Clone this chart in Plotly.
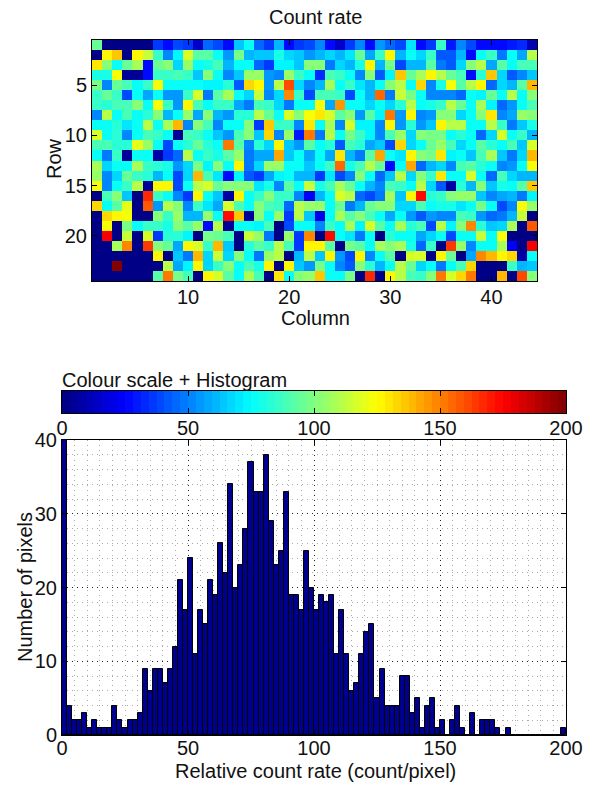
import plotly.graph_objects as go

W, H = 592, 786
FONT = "Liberation Sans"

# Count-rate map: 24 rows x 44 columns
row_01 = [95,0,0,0,0,0,35,25,40,35,15,45,40,25,65,75,45,35,60,25,35,40,50,25,15,35,50,25,55,45,38,70,25,35,85,30,50,38,28,25,28,30,32,12]
row_02 = [2,125,135,0,128,115,85,50,72,118,92,92,75,55,98,62,65,65,80,68,65,55,62,68,62,70,95,58,85,125,60,75,68,85,42,42,62,28,75,85,48,78,58,110]
row_03 = [130,100,75,95,108,25,95,100,68,105,75,80,88,60,75,75,45,35,72,72,65,100,100,48,68,60,80,125,62,98,40,60,62,92,48,42,68,100,112,58,92,75,88,88]
row_04 = [80,80,122,5,5,25,85,85,88,85,65,100,75,52,65,105,105,55,50,105,85,78,32,90,85,75,50,100,42,72,135,95,108,125,110,95,88,28,82,135,68,42,50,65]
row_05 = [98,50,95,90,75,85,122,75,75,75,75,72,72,82,42,132,125,55,110,160,68,50,60,108,75,85,70,60,78,100,110,75,132,50,80,122,92,112,125,45,68,62,92,140]
row_06 = [85,95,85,40,78,58,75,55,55,85,118,48,92,108,75,68,115,52,68,148,85,40,88,88,85,38,78,60,155,48,115,98,75,50,50,50,45,75,72,95,78,112,78,100]
row_07 = [85,82,88,88,102,75,122,85,55,125,90,75,85,85,58,48,88,85,68,48,75,75,122,58,145,78,75,68,78,68,82,110,78,80,85,112,95,78,108,72,45,55,75,88]
row_08 = [50,110,75,90,75,82,100,60,75,105,58,100,60,55,82,82,112,95,78,118,102,122,130,118,92,102,55,92,72,152,55,125,52,55,100,100,68,78,100,130,50,58,105,100]
row_09 = [78,75,82,70,75,112,75,108,140,50,100,88,52,75,75,102,35,137,85,85,50,130,75,108,50,118,72,72,50,125,55,82,55,65,125,112,112,75,75,110,85,48,65,80]
row_10 = [118,75,82,50,75,88,85,75,5,88,85,75,65,55,90,100,65,132,50,105,30,150,48,112,75,98,85,72,50,88,105,68,102,98,98,75,82,75,45,68,118,78,85,62]
row_11 = [90,90,82,82,120,105,75,40,75,82,95,82,75,150,92,50,82,68,125,65,55,92,75,82,42,90,82,58,65,38,132,68,75,95,105,90,68,75,92,82,75,88,65,118]
row_12 = [78,48,85,5,75,78,8,35,45,110,78,85,80,92,105,48,58,58,142,65,75,58,75,58,130,62,48,92,142,75,70,125,100,98,130,72,75,65,88,108,65,48,68,140]
row_13 = [108,68,75,75,108,85,82,80,55,68,98,72,100,75,125,48,68,105,105,75,75,65,75,85,155,80,88,112,95,28,75,142,45,62,68,52,88,92,82,75,50,55,75,122]
row_14 = [105,52,68,95,85,82,62,78,40,68,138,90,70,25,72,42,35,58,72,75,62,62,35,70,38,50,100,75,45,65,112,68,100,85,130,75,75,118,75,45,90,68,62,60]
row_15 = [122,50,75,85,112,5,125,128,40,75,112,118,95,100,100,100,70,80,50,92,75,115,80,90,108,95,75,62,50,90,85,75,112,68,42,8,82,62,100,65,80,78,92,135]
row_16 = [3,88,102,65,2,168,85,75,50,35,125,75,65,8,125,75,85,100,85,85,50,22,62,75,118,110,45,38,48,108,65,125,172,82,85,100,105,105,65,52,58,62,48,72]
row_17 = [132,78,92,120,2,158,55,110,100,50,85,70,58,118,88,75,100,88,85,45,112,105,105,75,95,48,60,95,102,102,68,68,88,75,80,80,70,78,98,75,40,50,122,105]
row_18 = [2,132,128,122,2,2,102,85,105,60,60,105,78,172,135,5,100,75,105,35,112,65,20,75,108,92,100,88,75,58,78,55,42,55,50,50,90,85,55,45,48,62,115,3]
row_19 = [2,122,3,98,75,85,85,80,100,92,105,28,110,5,75,78,72,88,3,38,78,78,50,85,78,108,72,118,92,75,108,82,88,40,112,72,102,148,82,65,68,108,3,158]
row_20 = [2,175,3,115,2,118,35,82,82,72,3,98,95,90,3,115,105,48,3,105,35,148,3,172,75,70,48,78,3,82,78,75,58,68,78,38,75,75,115,78,122,0,0,0]
row_21 = [0,2,108,148,2,165,100,95,58,125,118,85,140,65,3,82,92,85,110,90,35,125,125,92,3,98,92,78,108,100,108,80,45,85,3,165,105,50,75,75,108,22,3,175]
row_22 = [0,0,0,0,0,0,128,3,65,48,140,68,115,68,100,75,48,105,110,3,60,110,65,128,55,38,125,52,75,92,3,118,118,3,125,95,3,58,148,138,125,132,8,75]
row_23 = [0,0,200,0,0,0,0,112,58,72,125,68,85,100,75,90,80,125,3,125,65,55,98,78,50,42,100,82,62,75,112,95,68,75,48,75,88,132,2,2,2,85,60,65]
row_24 = [0,0,0,0,0,0,92,152,98,90,3,125,118,92,75,108,90,3,130,78,100,105,135,78,75,98,3,168,3,125,112,90,85,100,150,118,132,150,0,0,138,3,160,100]
count_map = [row_01,row_02,row_03,row_04,row_05,row_06,row_07,row_08,row_09,row_10,row_11,row_12,
             row_13,row_14,row_15,row_16,row_17,row_18,row_19,row_20,row_21,row_22,row_23,row_24]
columns = list(range(1, 45))
rows = list(range(1, 25))

# Histogram: 100 bins of width 2 between 0 and 200
hist_counts = [40,4,2,2,3,1,2,1,1,1,4,2,1,2,2,3,9,6,9,9,7,9,12,21,17,24,11,17,15,21,19,26,22,34,20,23,28,37,33,33,
               38,29,23,25,33,19,19,17,25,20,17,19,18,19,11,17,11,6,7,11,14,15,5,9,4,4,4,8,8,3,5,1,4,5,1,2,0,2,4,1,
               0,3,0,2,2,2,1,0,1,0,0,0,0,0,0,0,0,0,0,1]
bin_centres = [1 + 2 * i for i in range(100)]

# 64-step colour map used by the picture
N_LEVELS = 64
def jet(t):
    def ramp(c):
        return max(0.0, min(1.0, 1.5 - abs(4 * t - c)))
    return "rgb(%d,%d,%d)" % (round(255 * ramp(3)), round(255 * ramp(2)), round(255 * ramp(1)))
colorscale = []
for i in range(N_LEVELS):
    colour = jet((i + 0.5) / N_LEVELS)
    colorscale.append([i / N_LEVELS, colour])
    colorscale.append([(i + 1) / N_LEVELS, colour])
scale_step = 200 / N_LEVELS
scale_x = [(i + 0.5) * scale_step for i in range(N_LEVELS)]
scale_z = [scale_x]

def dom_x(a, b):
    return [a / W, b / W]
def dom_y(top, bottom):
    return [1 - bottom / H, 1 - top / H]

tickfont = dict(family=FONT, size=20, color="#111")
frame = dict(showline=True, linecolor="black", linewidth=1, mirror="ticks", ticks="inside",
             tickcolor="black", ticklen=5, tickwidth=1, tickfont=tickfont, zeroline=False, showgrid=False)

fig = go.Figure()
fig.add_trace(go.Heatmap(z=count_map, x=columns, y=rows, zmin=0, zmax=200, colorscale=colorscale,
                         showscale=False, xaxis="x", yaxis="y"))
fig.add_trace(go.Heatmap(z=scale_z, x=scale_x, y=[0], zmin=0, zmax=200, colorscale=colorscale,
                         showscale=False, xaxis="x2", yaxis="y2"))
fig.add_trace(go.Bar(x=bin_centres, y=hist_counts, width=2, marker=dict(color="#00008f", line=dict(color="black", width=1)),
                     xaxis="x3", yaxis="y3"))

def text(x, y, s, angle=0, anchor="center"):
    fig.add_annotation(x=x / W, y=1 - y / H, xref="paper", yref="paper", text=s, showarrow=False, textangle=angle,
                       xanchor=anchor, yanchor="middle", font=dict(family=FONT, size=20, color="#111"))

text(315, 17, "Count rate")
text(315, 318, "Column")
text(54, 159, "Row", angle=-90)
text(60, 380, "Colour scale + Histogram", anchor="left")
text(315, 771, "Relative count rate (count/pixel)")
text(25, 587, "Number of pixels", angle=-90)

grid_major = dict(showgrid=True, griddash="1px,4px", gridcolor="#222", gridwidth=1)
minor_x = dict(dtick=5, showgrid=True, griddash="1px,4px", gridcolor="#aaa", gridwidth=1, ticks="")
minor_y = dict(dtick=2, showgrid=True, griddash="1px,4px", gridcolor="#aaa", gridwidth=1, ticks="")

x3 = dict(frame); x3.update(grid_major)
x3.update(domain=dom_x(62, 566), anchor="y3", range=[0, 200], tickvals=[0, 50, 100, 150, 200], minor=minor_x,
          ticklabelstandoff=-5)
y3 = dict(frame); y3.update(grid_major)
y3.update(domain=dom_y(440, 735), anchor="x3", range=[0, 40], tickvals=[0, 10, 20, 30, 40], minor=minor_y)

fig.update_layout(
    width=W, height=H, margin=dict(l=0, r=0, t=0, b=0, autoexpand=False),
    paper_bgcolor="white", plot_bgcolor="white", showlegend=False, bargap=0,
    xaxis=dict(frame, domain=dom_x(92, 537), anchor="y", range=[0.5, 44.5], tickvals=[10, 20, 30, 40], ticklabelstandoff=-2),
    yaxis=dict(frame, domain=dom_y(40, 281), anchor="x", range=[24.5, 0.5], tickvals=[5, 10, 15, 20]),
    xaxis2=dict(frame, domain=dom_x(62, 566), anchor="y2", range=[0, 200], tickvals=[0, 50, 100, 150, 200], ticklabelstandoff=-3),
    yaxis2=dict(frame, domain=dom_y(391, 413), anchor="x2", range=[-0.5, 0.5], tickvals=[], ticks=""),
    xaxis3=x3, yaxis3=y3,
)

fig.write_html("out.html", config={"displayModeBar": False},
               post_script="document.body.style.margin='0';document.documentElement.style.overflow='hidden';")
